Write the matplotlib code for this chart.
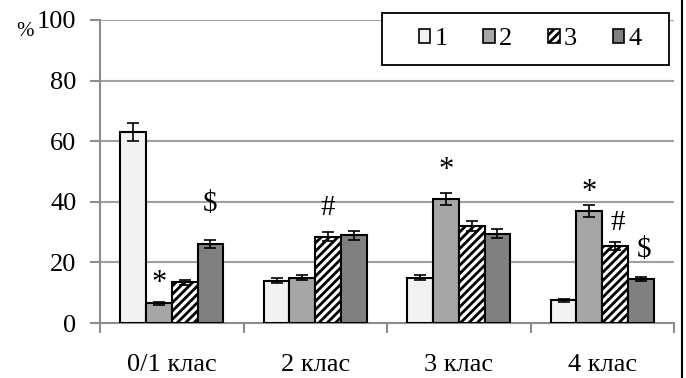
import numpy as np
import matplotlib
matplotlib.use('Agg')
import matplotlib.pyplot as plt
from matplotlib.patches import Patch, Rectangle
from matplotlib.lines import Line2D

plt.rcParams['font.family'] = ['Liberation Serif', 'DejaVu Serif']
plt.rcParams['hatch.linewidth'] = 2.0

categories = ['0/1 клас', '2 клас', '3 клас', '4 клас']
series_names = ['1', '2', '3', '4']
values = [
    [63.0, 14.0, 15.0, 7.5],
    [6.5, 15.0, 41.0, 37.0],
    [13.5, 28.5, 32.0, 25.5],
    [26.0, 29.0, 29.5, 14.5],
]
errors = [
    [3.0, 0.8, 0.8, 0.5],
    [0.5, 0.8, 2.0, 2.0],
    [0.8, 1.5, 1.5, 1.3],
    [1.3, 1.5, 1.5, 0.8],
]
# marks: (category index, series index, symbol, y of text anchor)
marks = [
    (0, 1, '*', 8.4),
    (0, 3, '$', 35.0),
    (1, 2, '#', 33.6),
    (2, 1, '*', 45.7),
    (3, 1, '*', 38.2),
    (3, 2, '#', 28.6),
    (3, 3, '$', 19.8),
]

colors = ['#f2f2f2', '#a6a6a6', 'white', '#808080']
hatches = [None, None, '////', None]

fig = plt.figure(figsize=(6.86, 3.78), dpi=100)
ax = fig.add_axes([100 / 686, 1 - 323 / 378, 574 / 686, 303 / 378])

x = np.arange(len(categories))
width = 0.18
for i in range(4):
    pos = x + (i - 1.5) * width
    ax.bar(pos, values[i], width, color=colors[i], hatch=hatches[i],
           edgecolor='black', linewidth=1.5, zorder=3)
    ax.errorbar(pos, values[i], yerr=errors[i], fmt='none', ecolor='black',
                elinewidth=1.2, capsize=4, capthick=1.2, zorder=4)

for c, s, sym, yv in marks:
    xx = c + (s - 1.5) * width
    if c == 3 and sym in '$#':
        xx += 0.02
    ax.text(xx, yv, sym, ha='center', va='bottom',
            fontsize=22 if sym == '*' else 21)

ax.set_ylim(0, 100)
ax.set_xlim(-0.5, 3.5)
ax.set_yticks([0, 20, 40, 60, 80, 100])
ax.set_yticklabels(['0', '20', '40', '60', '80', '100'], fontsize=19)
ax.set_xticks(x)
ax.set_xticklabels(categories, fontsize=19)
ax.tick_params(axis='x', length=0, pad=22)
ax.set_xticks([-0.5, 0.5, 1.5, 2.5, 3.5], minor=True)
ax.tick_params(axis='x', which='minor', length=7, width=1.5, color='#8c8c8c', direction='out')
ax.tick_params(axis='y', length=7, width=1.5, color='#8c8c8c', pad=10)
ax.grid(axis='y', color='#a0a0a0', linewidth=1.5, zorder=0)
ax.set_axisbelow(True)
for sp in ['top', 'right']:
    ax.spines[sp].set_visible(False)
for sp in ['left', 'bottom']:
    ax.spines[sp].set_color('#8c8c8c')
    ax.spines[sp].set_linewidth(1.5)

fig.text(16 / 686, 1 - 41 / 378, '%', fontsize=15, va='bottom')

# legend box drawn separately so the entries can sit centred inside it
box = Rectangle((382 / 686, 1 - 65 / 378), 287 / 686, 52 / 378,
                transform=fig.transFigure, facecolor='white',
                edgecolor='black', linewidth=1.3, zorder=9)
fig.add_artist(box)
handles = [Patch(facecolor=colors[i], hatch=hatches[i], edgecolor='black', linewidth=1.2)
           for i in range(4)]
leg = fig.legend(handles, series_names, loc='center', ncol=4,
                 bbox_to_anchor=(530 / 686, 1 - 39 / 378), fontsize=19,
                 frameon=False, handlelength=0.45, handleheight=0.45,
                 handletextpad=0.15, columnspacing=1.35, borderpad=0.0)
leg.set_zorder(10)

fig.add_artist(Line2D([682 / 686, 682 / 686], [0, 1], color='black', linewidth=1.5))

fig.savefig('out.png', dpi=100, facecolor='white')
